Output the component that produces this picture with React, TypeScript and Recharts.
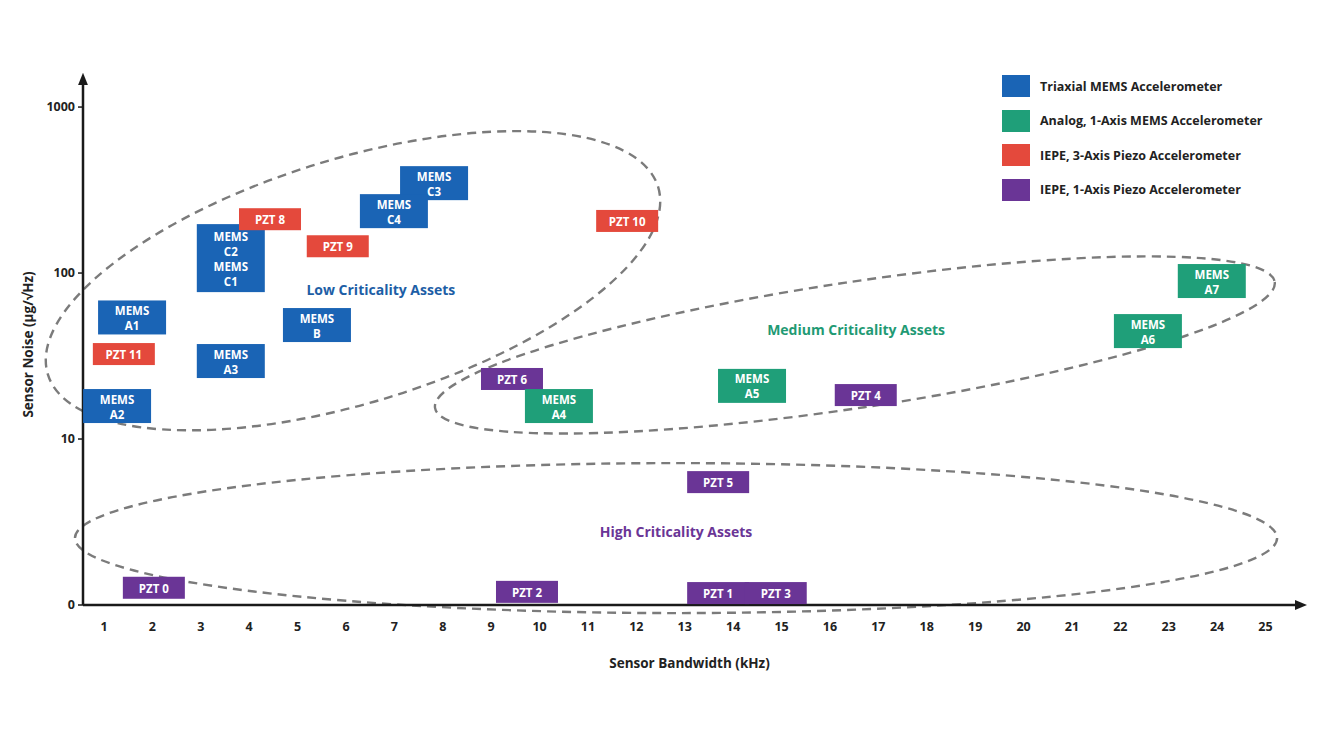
import React from "react";
import { ScatterChart, Scatter, XAxis, YAxis, ReferenceArea, Legend } from "recharts";

const FONT = "'Open Sans', 'DejaVu Sans', sans-serif";

const categories = [
  "Triaxial MEMS Accelerometer",
  "Analog, 1-Axis MEMS Accelerometer",
  "IEPE, 3-Axis Piezo Accelerometer",
  "IEPE, 1-Axis Piezo Accelerometer",
];
const categoryColors = ["#1a64b5", "#1f9f79", "#e4493c", "#6a3596"];

const bandwidthTicks = [1, 2, 3, 4, 5, 6, 7, 8, 9, 10, 11, 12, 13, 14, 15, 16, 17, 18, 19, 20, 21, 22, 23, 24, 25];
const noiseTicks = [1, 10, 100, 1000];

// bandwidth in kHz, noise in µg/√Hz
const triaxialMems = [
  { bw: 1.58, noise: 54, label: ["MEMS", "A1"] },
  { bw: 1.27, noise: 15.8, label: ["MEMS", "A2"] },
  { bw: 3.62, noise: 29.5, label: ["MEMS", "A3"] },
  { bw: 5.4, noise: 48.6, label: ["MEMS", "B"] },
  { bw: 3.62, noise: 123, label: ["MEMS", "C2", "MEMS", "C1"] },
  { bw: 7.82, noise: 348, label: ["MEMS", "C3"] },
  { bw: 6.99, noise: 236, label: ["MEMS", "C4"] },
];

const analogMems = [
  { bw: 10.4, noise: 15.8, label: ["MEMS", "A4"] },
  { bw: 14.39, noise: 20.9, label: ["MEMS", "A5"] },
  { bw: 22.57, noise: 44.7, label: ["MEMS", "A6"] },
  { bw: 23.89, noise: 89.5, label: ["MEMS", "A7"] },
];

const piezo3Axis = [
  { bw: 4.43, noise: 211, label: ["PZT 8"] },
  { bw: 5.83, noise: 145, label: ["PZT 9"] },
  { bw: 11.81, noise: 206, label: ["PZT 10"] },
  { bw: 1.41, noise: 32.5, label: ["PZT 11"] },
];

const piezo1Axis = [
  { bw: 13.69, noise: 1.18, label: ["PZT 1"] },
  { bw: 9.74, noise: 1.2, label: ["PZT 2"] },
  { bw: 14.88, noise: 1.18, label: ["PZT 3"] },
  { bw: 16.74, noise: 18.4, label: ["PZT 4"] },
  { bw: 13.69, noise: 5.5, label: ["PZT 5"] },
  { bw: 9.43, noise: 23, label: ["PZT 6"] },
  { bw: 2.03, noise: 1.27, label: ["PZT 0"] },
];

// criticality zones: ends of the major axis of each dashed ellipse
const zones = [
  { name: "low", bwFrom: -0.16, noiseFrom: 24.5, bwTo: 12.45, noiseTo: 330 },
  { name: "medium", bwFrom: 7.84, noiseFrom: 15.4, bwTo: 25.19, noiseTo: 88.3 },
  { name: "high", bwFrom: 0.4, noiseFrom: 2.53, bwTo: 25.24, noiseTo: 2.53 },
];
const zoneHalfWidth: Record<string, number> = { low: 122, medium: 63, high: 75 };

const zoneLabels = [
  { bw: 6.72, noise: 80, text: "Low Criticality Assets" },
  { bw: 16.54, noise: 45.4, text: "Medium Criticality Assets" },
  { bw: 12.82, noise: 2.79, text: "High Criticality Assets" },
];
const zoneLabelColors = ["#1d5ea6", "#1f9a74", "#6a3596"];

const makeBox = (color: string) => (props: any) => {
  const { cx, cy, payload } = props;
  const lines: string[] = payload.label;
  const w = lines[0] === "MEMS" ? 68 : 62;
  const h = lines.length === 1 ? 22 : lines.length * 17;
  const step = 15;
  return (
    <g>
      <rect x={cx - w / 2} y={cy - h / 2} width={w} height={h} fill={color} />
      <text
        x={cx}
        y={cy - ((lines.length - 1) * step) / 2}
        textAnchor="middle"
        dominantBaseline="central"
        fill="#fff"
        fontSize={11.5}
        fontWeight={700}
        fontFamily={FONT}
      >
        {lines.map((l, i) => (
          <tspan key={i} x={cx} dy={i === 0 ? 0 : step}>
            {l}
          </tspan>
        ))}
      </text>
    </g>
  );
};

const makeZone = (zone: (typeof zones)[number]) => (props: any) => {
  const { x, y, width, height } = props;
  const cx = x + width / 2;
  const cy = y + height / 2;
  const rx = Math.hypot(width, height) / 2;
  const tilt = (Math.atan2(height, width) * 180) / Math.PI;
  const angle = zone.noiseTo > zone.noiseFrom ? -tilt : tilt;
  return (
    <ellipse
      cx={cx}
      cy={cy}
      rx={rx}
      ry={zoneHalfWidth[zone.name]}
      transform={`rotate(${angle} ${cx} ${cy})`}
      fill="none"
      stroke="#7b7b7b"
      strokeWidth={2.4}
      strokeDasharray="9 6"
    />
  );
};

const zoneText = (props: any) => {
  const { cx, cy, payload, index } = props;
  return (
    <text
      x={cx}
      y={cy}
      textAnchor="middle"
      dominantBaseline="central"
      fill={zoneLabelColors[index]}
      fontSize={14}
      fontWeight={700}
      fontFamily={FONT}
    >
      {payload.text}
    </text>
  );
};

const LegendBox = () => (
  <div style={{ fontFamily: FONT }}>
    {categories.map((c, i) => (
      <div key={c} style={{ display: "flex", alignItems: "center", height: 22, marginBottom: 12.5 }}>
        <div style={{ width: 28, height: 22, background: categoryColors[i], marginRight: 10 }} />
        <span style={{ fontSize: 12.5, fontWeight: 700, color: "#222" }}>{c}</span>
      </div>
    ))}
  </div>
);

const xTitle = (props: any) => {
  const { x, y, width } = props.viewBox;
  return (
    <text x={x + width / 2} y={y + 58} textAnchor="middle" dominantBaseline="central" fontSize={13.5} fontWeight={700} fill="#222" fontFamily={FONT}>
      Sensor Bandwidth (kHz)
    </text>
  );
};

const yTitle = (props: any) => {
  const { x, y, height } = props.viewBox;
  return (
    <text
      transform={`translate(${x + 13},${y + height / 2}) rotate(-90)`}
      textAnchor="middle"
      dominantBaseline="central"
      fontSize={13.5}
      fontWeight={700}
      fill="#222"
      fontFamily={FONT}
    >
      Sensor Noise (µg/√Hz)
    </text>
  );
};

const axisLine = { stroke: "#1a1a1a", strokeWidth: 2.5 };
const tickStyle = { fill: "#222", fontSize: 12.5, fontWeight: 700, fontFamily: FONT };

export default function App() {
  return (
    <div style={{ position: "absolute", left: 0, top: 0, width: 1320, height: 742, background: "#fff" }}>
      <svg width={0} height={0} style={{ position: "absolute" }}>
        <defs>
          <marker id="axisArrow" viewBox="0 0 10 10" refX="1" refY="5" markerWidth="5" markerHeight="5" orient="auto-start-reverse">
            <path d="M0,1 L10,5 L0,9 z" fill="#1a1a1a" />
          </marker>
        </defs>
      </svg>
      <ScatterChart width={1320} height={742} margin={{ top: 84, right: 24, bottom: 67, left: 15 }}>
        <XAxis
          type="number"
          dataKey="bw"
          domain={[0.566, 25.63]}
          ticks={bandwidthTicks}
          interval={0}
          tickLine={false}
          tickSize={6}
          tickMargin={11}
          tick={tickStyle}
          axisLine={{ ...axisLine, markerEnd: "url(#axisArrow)" }}
          height={70}
          label={{ content: xTitle }}
        />
        <YAxis
          type="number"
          dataKey="noise"
          scale="log"
          domain={[1, 1377]}
          ticks={noiseTicks}
          interval={0}
          tickFormatter={(v: number) => (v === 1 ? "0" : String(v))}
          tickSize={5}
          tickMargin={3}
          tickLine={{ stroke: "#1a1a1a", strokeWidth: 1.5 }}
          tick={tickStyle}
          axisLine={{ ...axisLine, markerStart: "url(#axisArrow)" }}
          width={68}
          label={{ content: yTitle }}
        />
        <Legend
          layout="horizontal"
          verticalAlign="middle"
          align="center"
          wrapperStyle={{ position: "absolute", top: 75, left: 1002, width: 310 }}
          content={LegendBox}
        />
        <Scatter data={triaxialMems} shape={makeBox(categoryColors[0])} isAnimationActive={false} />
        <Scatter data={piezo3Axis} shape={makeBox(categoryColors[2])} isAnimationActive={false} />
        <Scatter data={piezo1Axis} shape={makeBox(categoryColors[3])} isAnimationActive={false} />
        <Scatter data={analogMems} shape={makeBox(categoryColors[1])} isAnimationActive={false} />
        <Scatter data={zoneLabels} shape={zoneText} isAnimationActive={false} />
        {zones.map((z) => (
          <ReferenceArea
            key={z.name}
            x1={z.bwFrom}
            x2={z.bwTo}
            y1={z.noiseFrom}
            y2={z.noiseTo}
            ifOverflow="visible"
            shape={makeZone(z)}
          />
        ))}
      </ScatterChart>
    </div>
  );
}
